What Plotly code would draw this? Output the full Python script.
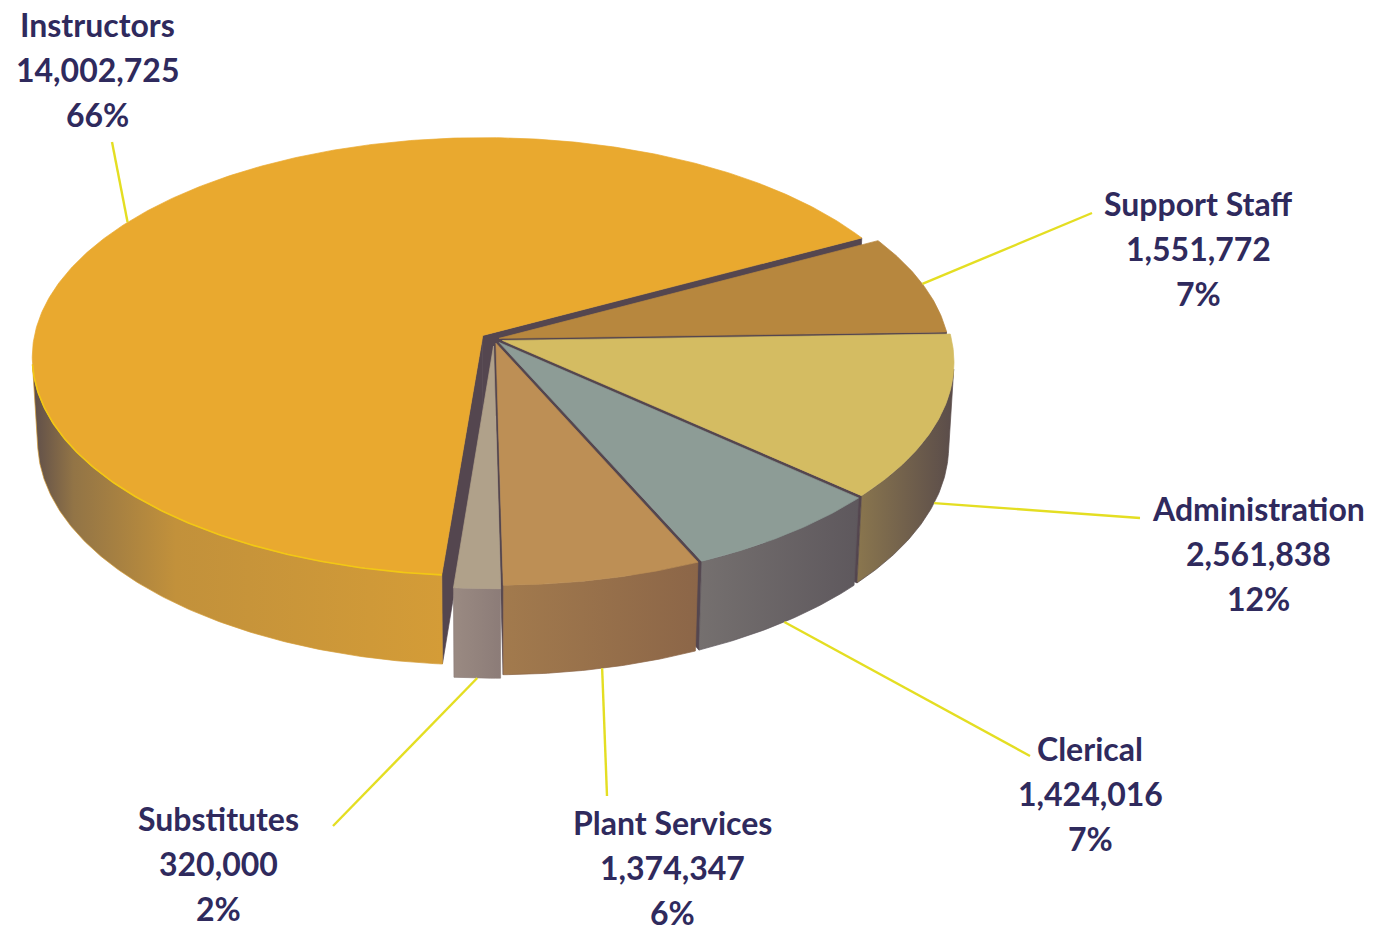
import numpy as np
import plotly.graph_objects as go

# ---- data -------------------------------------------------------------
categories = ["Instructors", "Support Staff", "Administration", "Clerical",
              "Plant Services", "Substitutes"]
amounts = [14002725, 1551772, 2561838, 1424016, 1374347, 320000]

# ---- look -------------------------------------------------------------
top_colors = ["#E9A92F", "#B7873E", "#D4BC62", "#8D9C96", "#BD8F55", "#B0A18A"]
wall_scales = [
    [[0, "#5E4E4A"], [0.1, "#927446"], [0.35, "#C2913B"], [1, "#D49C37"]],
    [[0, "#9A7440"], [1, "#7A5E3E"]],
    [[0, "#8A764E"], [1, "#5A4C4A"]],
    [[0, "#75706F"], [1, "#5E585D"]],
    [[0, "#A27A4D"], [1, "#8C6648"]],
    [[0, "#9A8A82"], [1, "#8C7C78"]],
]
explode = [0.03, 0.012, 0.02, 0.02, 0.02, 0.032]   # radial pull-out per slice
CUT_COLOR = "#54464F"
RIM_COLOR = "#F2C814"
LEADER_COLOR = "#E4DE22"
TEXT_COLOR = "#2F2A5D"

# label block centres (x, first line y) and leader end points
label_centers = [(97, 24), (1198, 203), (1258, 508), (1090, 748), (672, 822), (218, 818)]
leader_ends = [(112, 142), (1092, 213), (1140, 518), (1030, 756), (607, 796), (333, 826)]
leader_levels = [0.0, 0.0, 1.0, 1.0, 1.0, 1.0]   # fraction of the wall height
LINE_GAP = 45
FONT_SIZE = 32

# ---- 3D view ------------------------------------------------------------
TILT = np.radians(29)
CAM_DIST = 9.0
RADIUS_PX = 449
CX, CY = 494, 339
THICK = 0.215
FIRST_ANGLE = 265.4   # degrees, counter-clockwise from +x; slices run clockwise

fwd = np.array([0.0, np.cos(TILT), -np.sin(TILT)])
upv = np.array([0.0, np.sin(TILT), np.cos(TILT)])
cam = -CAM_DIST * fwd
focal = RADIUS_PX * CAM_DIST


def project(X, Y, Z):
    X, Y, Z = np.broadcast_arrays(np.asarray(X, float), np.asarray(Y, float),
                                  np.asarray(Z, float))
    vx, vy, vz = X - cam[0], Y - cam[1], Z - cam[2]
    depth = vy * fwd[1] + vz * fwd[2]
    up = vy * upv[1] + vz * upv[2]
    return CX + focal * vx / depth, CY - focal * up / depth


def cam_dist(p):
    return float(np.linalg.norm(np.asarray(p) - cam))


total = sum(amounts)
fracs = [a / total for a in amounts]

slices = []
start = FIRST_ANGLE
for f, e in zip(fracs, explode):
    a0, a1 = start, start - 360 * f
    mid = np.radians((a0 + a1) / 2)
    slices.append(dict(a0=a0, a1=a1, mid=mid,
                       ox=e * np.cos(mid), oy=e * np.sin(mid)))
    start = a1

fig = go.Figure()


def add_poly(xs, ys, color, scale=None):
    xs = list(xs) + [xs[0]]
    ys = list(ys) + [ys[0]]
    kw = dict(x=xs, y=ys, mode="lines", fill="toself", fillcolor=color,
              line=dict(width=0.7, color=color), hoverinfo="skip", showlegend=False)
    if scale is not None:
        kw["fillgradient"] = dict(type="horizontal", colorscale=scale)
        kw["line"] = dict(width=0.7, color=scale[-1][1])
    fig.add_trace(go.Scatter(**kw))


# collect the side faces so they can be painted back to front
faces = []
rim_lines = {}
for i, s in enumerate(slices):
    n = max(int(abs(s["a0"] - s["a1"]) / 0.5), 2)
    th = np.radians(np.linspace(s["a0"], s["a1"], n))
    X = s["ox"] + np.cos(th)
    Y = s["oy"] + np.sin(th)
    facing = (X - cam[0]) * np.cos(th) + (Y - cam[1]) * np.sin(th) < 0
    idx = np.where(facing)[0]
    if len(idx):
        runs = np.split(idx, np.where(np.diff(idx) > 1)[0] + 1)
        for run in runs:
            if len(run) < 2:
                continue
            tx, ty = project(X[run], Y[run], 0)
            bx, by = project(X[run], Y[run], -THICK)
            xs = np.concatenate([tx, bx[::-1]])
            ys = np.concatenate([ty, by[::-1]])
            c = (X[run].mean(), Y[run].mean(), -THICK / 2)
            faces.append((cam_dist(c), xs, ys, top_colors[i], wall_scales[i]))
            rim_lines.setdefault(i, []).append((tx, ty))
    # radial cut faces
    for ang, sgn in ((s["a0"], 1), (s["a1"], -1)):
        t = np.radians(ang)
        nx, ny = np.cos(t + sgn * np.pi / 2), np.sin(t + sgn * np.pi / 2)
        rx, ry = s["ox"] + np.cos(t), s["oy"] + np.sin(t)
        c = np.array([(s["ox"] + rx) / 2, (s["oy"] + ry) / 2, -THICK / 2])
        if (c[0] - cam[0]) * nx + (c[1] - cam[1]) * ny < 0:
            px, py = project([s["ox"], rx, rx, s["ox"]], [s["oy"], ry, ry, s["oy"]],
                             [0, 0, -THICK, -THICK])
            faces.append((cam_dist(c), px, py, CUT_COLOR, None))

for d, xs, ys, col, scale in sorted(faces, key=lambda f: -f[0]):
    add_poly(xs, ys, col, scale)

# top faces
for i, s in enumerate(slices):
    n = max(int(abs(s["a0"] - s["a1"]) / 0.5), 2)
    th = np.radians(np.linspace(s["a0"], s["a1"], n))
    X = np.concatenate([[s["ox"]], s["ox"] + np.cos(th)])
    Y = np.concatenate([[s["oy"]], s["oy"] + np.sin(th)])
    px, py = project(X, Y, 0)
    add_poly(px, py, top_colors[i])

# bright rim along the front edge of the largest slice
for tx, ty in rim_lines.get(0, []):
    fig.add_trace(go.Scatter(x=tx, y=ty, mode="lines",
                             line=dict(color=RIM_COLOR, width=1.6),
                             hoverinfo="skip", showlegend=False))

# leader lines
for i, s in enumerate(slices):
    ax, ay = project(s["ox"] + np.cos(s["mid"]), s["oy"] + np.sin(s["mid"]),
                     -leader_levels[i] * THICK)
    ex, ey = leader_ends[i]
    fig.add_trace(go.Scatter(x=[float(ax), ex], y=[float(ay), ey], mode="lines",
                             line=dict(color=LEADER_COLOR, width=2.4),
                             hoverinfo="skip", showlegend=False))

# labels: name, amount, share
for i, name in enumerate(categories):
    lx, ly = label_centers[i]
    lines = [name, f"{amounts[i]:,}", f"{round(fracs[i] * 100)}%"]
    for k, txt in enumerate(lines):
        fig.add_annotation(x=lx, y=ly + k * LINE_GAP, text=txt, showarrow=False,
                           xanchor="center", yanchor="middle",
                           font=dict(family="Lato", size=FONT_SIZE, color=TEXT_COLOR,
                                     weight="bold"))

fig.update_layout(
    width=1379, height=934,
    margin=dict(l=0, r=0, t=0, b=0),
    paper_bgcolor="white", plot_bgcolor="white",
    xaxis=dict(range=[0, 1379], visible=False, fixedrange=True),
    yaxis=dict(range=[934, 0], visible=False, fixedrange=True),
)

fig.write_html("out.html")
